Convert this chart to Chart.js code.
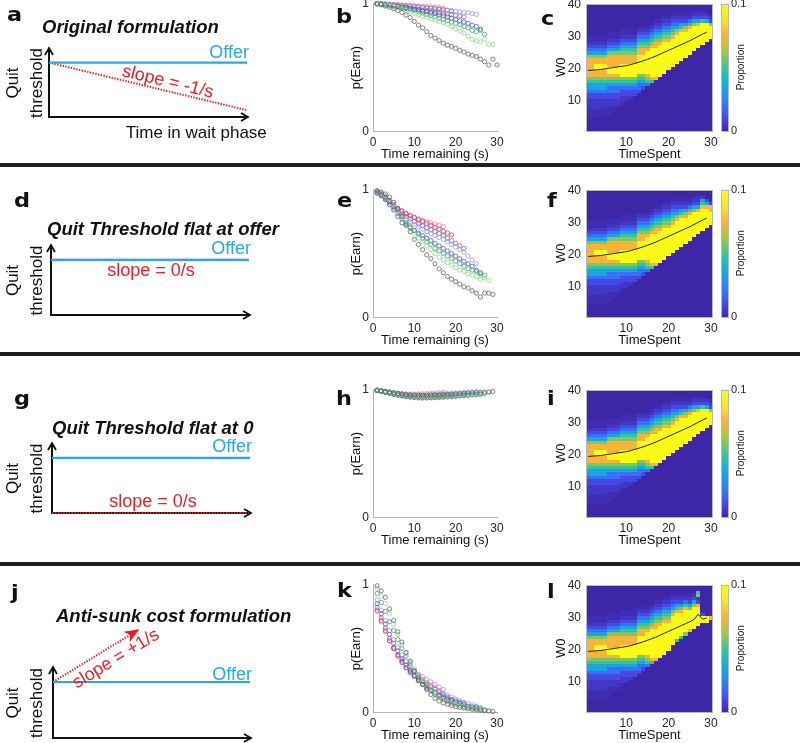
<!DOCTYPE html>
<html>
<head>
<meta charset="utf-8">
<title>Quit threshold formulations</title>
<script src="https://cdn.jsdelivr.net/npm/chart.js@4.4.1/dist/chart.umd.min.js"></script>
<style>
  html, body { margin: 0; padding: 0; background: #fff; }
  #fig { position: relative; width: 800px; height: 743px; overflow: hidden; background: #fff;
         font-family: "Liberation Sans", Arial, Helvetica, sans-serif; color: #111; }
  #fig canvas { position: absolute; }
  .letter { position: absolute; font-family: "DejaVu Sans", sans-serif; font-weight: bold; font-size: 20px; line-height: 1;
            transform: scaleX(1.12); transform-origin: left top; }
  .title { position: absolute; font-weight: bold; font-style: italic; font-size: 18.5px; line-height: 1; white-space: nowrap; }
  .rule { position: absolute; left: 0; width: 800px; height: 4px; background: #1e1e1e; z-index: 2; }
</style>
</head>
<body>
<div id="fig">
  <div class="letter" style="left:7px;top:4px">a</div>
  <div class="letter" style="left:336px;top:6px">b</div>
  <div class="letter" style="left:541px;top:8px">c</div>
  <div class="letter" style="left:14px;top:190px">d</div>
  <div class="letter" style="left:337px;top:190px">e</div>
  <div class="letter" style="left:547px;top:190px">f</div>
  <div class="letter" style="left:14px;top:388px">g</div>
  <div class="letter" style="left:336px;top:388px">h</div>
  <div class="letter" style="left:547px;top:388px">i</div>
  <div class="letter" style="left:11px;top:582px">j</div>
  <div class="letter" style="left:337px;top:580px">k</div>
  <div class="letter" style="left:547px;top:581px">l</div>
  <div class="title" style="left:42px;top:18px">Original formulation</div>
  <div class="title" style="left:47px;top:220px">Quit Threshold flat at offer</div>
  <div class="title" style="left:52px;top:419px">Quit Threshold flat at 0</div>
  <div class="title" style="left:56px;top:607px">Anti-sunk cost formulation</div>
  <div class="rule" style="top:163px"></div>
  <div class="rule" style="top:352px"></div>
  <div class="rule" style="top:562px"></div>
</div>
<script>
// ---- data ----
const seconds = [1,2,3,4,5,6,7,8,9,10,11,12,13,14,15,16,17,18,19,20,21,22,23,24,25,26,27,28,29,30];
const timeTicks = [0, 10, 20, 30];
const pTicks = [0, 1];
const spentTicks = [10, 20, 30];
const w0Ticks = [10, 20, 30, 40];
const propTicks = [0, 0.1];

// schematic lines (arbitrary units)
const schemTime = [0, 10];
const offerLine = [8, 8];
const quitOriginal = [8, 1];
const quitFlatOffer = [8, 8];
const quitFlatZero = [0, 0];
const antiTime = [0, 4.3];
const quitAntiSunk = [8, 15.4];

// p(Earn) by time remaining, one array per offer group
const bGray = [0.995,0.99,0.98,0.97,0.96,0.945,0.93,0.91,0.89,0.86,0.83,0.81,0.78,0.75,0.73,0.71,0.69,0.675,0.665,0.65,0.635,0.62,0.605,0.595,0.585,0.565,0.545,0.52,0.565,0.52];
const bLime = [1.0,0.995,0.99,0.985,0.98,0.97,0.96,0.95,0.935,0.925,0.91,0.90,0.89,0.88,0.87,0.86,0.85,0.84,0.82,0.80,0.785,0.77,0.745,0.72,0.71,0.70,0.72,0.68,0.68];
const bGreen = [1.0,0.995,0.99,0.985,0.98,0.975,0.97,0.96,0.955,0.945,0.935,0.925,0.915,0.905,0.895,0.885,0.875,0.865,0.855,0.845,0.835,0.82,0.81,0.79,0.78,0.79,0.76];
const bBlue = [1.0,0.995,0.99,0.985,0.98,0.975,0.97,0.965,0.96,0.955,0.95,0.94,0.935,0.925,0.92,0.91,0.905,0.895,0.885,0.875,0.865,0.855,0.845,0.83,0.82,0.80];
const bLilac = [1.0,0.998,0.996,0.993,0.99,0.987,0.984,0.981,0.978,0.975,0.972,0.969,0.966,0.963,0.96,0.956,0.952,0.948,0.944,0.94,0.936,0.932,0.928,0.922,0.915];
const bPurple = [1.0,0.997,0.993,0.988,0.983,0.978,0.973,0.968,0.963,0.958,0.953,0.948,0.943,0.938,0.933,0.928,0.923,0.918,0.913,0.908,0.903,0.895];
const bRed = [1.0,0.998,0.995,0.992,0.989,0.986,0.983,0.98,0.977,0.974,0.971,0.968,0.965,0.962,0.958,0.954,0.95,0.946,0.94];
const bPink = [1.0,0.999,0.997,0.995,0.993,0.991,0.989,0.987,0.985,0.983,0.981,0.979,0.977,0.975,0.972,0.969,0.965];

const eGray = [0.99,0.98,0.965,0.94,0.90,0.85,0.79,0.73,0.67,0.61,0.57,0.53,0.49,0.46,0.42,0.38,0.35,0.32,0.30,0.28,0.26,0.24,0.23,0.21,0.19,0.16,0.19,0.19,0.18];
const eLime = [0.985,0.97,0.95,0.92,0.88,0.83,0.78,0.74,0.70,0.66,0.62,0.59,0.56,0.53,0.50,0.47,0.45,0.43,0.41,0.39,0.37,0.36,0.34,0.33,0.32,0.30,0.31,0.29];
const eGreen = [0.98,0.955,0.93,0.895,0.855,0.81,0.77,0.74,0.71,0.68,0.65,0.62,0.59,0.57,0.54,0.52,0.50,0.48,0.46,0.44,0.42,0.40,0.38,0.37,0.36,0.34,0.33];
const eBlue = [0.97,0.95,0.92,0.88,0.84,0.79,0.74,0.72,0.70,0.68,0.66,0.64,0.62,0.60,0.58,0.56,0.54,0.52,0.50,0.48,0.46,0.44,0.42,0.40,0.37,0.35];
const eLilac = [0.975,0.955,0.93,0.90,0.865,0.83,0.79,0.77,0.75,0.73,0.71,0.69,0.67,0.655,0.64,0.625,0.61,0.59,0.57,0.55,0.53,0.51,0.48,0.45,0.42];
const ePurple = [0.98,0.96,0.935,0.905,0.87,0.84,0.81,0.79,0.77,0.75,0.73,0.715,0.70,0.685,0.67,0.655,0.64,0.62,0.60,0.58,0.56,0.54];
const eRed = [0.985,0.965,0.94,0.91,0.88,0.85,0.83,0.81,0.795,0.78,0.765,0.75,0.735,0.72,0.705,0.69,0.675,0.66,0.645];
const ePink = [0.99,0.97,0.945,0.915,0.885,0.855,0.835,0.815,0.80,0.785,0.77,0.76,0.75,0.74,0.73,0.72,0.71];

const hGray = [0.995,0.99,0.985,0.98,0.975,0.97,0.965,0.96,0.958,0.956,0.955,0.955,0.955,0.956,0.957,0.958,0.96,0.962,0.964,0.966,0.968,0.97,0.972,0.974,0.976,0.978,0.98,0.982,0.985];
const hLime = [0.995,0.99,0.983,0.976,0.97,0.963,0.957,0.952,0.948,0.945,0.943,0.942,0.942,0.943,0.944,0.946,0.948,0.95,0.952,0.955,0.957,0.96,0.962,0.965,0.968,0.97,0.973,0.975];
const hGreen = [0.993,0.987,0.98,0.972,0.965,0.958,0.952,0.947,0.943,0.94,0.938,0.937,0.937,0.938,0.939,0.941,0.943,0.945,0.947,0.95,0.952,0.955,0.957,0.96,0.962,0.965,0.967];
const hBlue = [0.99,0.985,0.977,0.97,0.962,0.955,0.949,0.944,0.94,0.937,0.935,0.934,0.934,0.935,0.936,0.938,0.94,0.942,0.945,0.947,0.95,0.952,0.955,0.958,0.96,0.963];
const hLilac = [0.995,0.99,0.985,0.98,0.975,0.97,0.966,0.962,0.96,0.958,0.957,0.957,0.958,0.96,0.962,0.964,0.966,0.968,0.97,0.972,0.974,0.976,0.978,0.98,0.982];
const hPurple = [0.993,0.988,0.982,0.976,0.97,0.964,0.959,0.955,0.952,0.95,0.949,0.948,0.948,0.949,0.95,0.952,0.954,0.956,0.958,0.96,0.962,0.964];
const hRed = [0.993,0.987,0.98,0.973,0.966,0.96,0.955,0.951,0.948,0.946,0.945,0.945,0.946,0.947,0.949,0.951,0.953,0.955,0.957];
const hPink = [0.996,0.99,0.985,0.98,0.975,0.971,0.968,0.966,0.965,0.965,0.966,0.967,0.969,0.971,0.973,0.975,0.977];

const kGray = [0.99,0.95,0.90,0.81,0.72,0.63,0.55,0.47,0.40,0.32,0.27,0.22,0.18,0.14,0.11,0.09,0.075,0.065,0.055,0.045,0.04,0.035,0.03,0.025,0.02,0.017,0.014,0.011,0.008];
const kLime = [0.97,0.91,0.85,0.77,0.69,0.61,0.53,0.46,0.40,0.34,0.29,0.25,0.21,0.18,0.15,0.12,0.10,0.085,0.07,0.06,0.05,0.045,0.04,0.035,0.03,0.025,0.02,0.015];
const kGreen = [0.93,0.86,0.79,0.71,0.64,0.57,0.50,0.44,0.38,0.33,0.28,0.24,0.21,0.18,0.15,0.13,0.11,0.09,0.075,0.065,0.055,0.045,0.04,0.035,0.03,0.025,0.02];
const kBlue = [0.85,0.77,0.69,0.61,0.54,0.48,0.42,0.37,0.33,0.29,0.25,0.22,0.19,0.17,0.15,0.13,0.115,0.10,0.09,0.08,0.07,0.06,0.05,0.045,0.04,0.035];
const kLilac = [0.88,0.80,0.72,0.64,0.57,0.51,0.45,0.40,0.36,0.32,0.29,0.26,0.23,0.21,0.19,0.17,0.15,0.135,0.12,0.105,0.09,0.08,0.07,0.06,0.05];
const kPurple = [0.82,0.74,0.66,0.58,0.51,0.45,0.40,0.35,0.31,0.28,0.25,0.22,0.20,0.18,0.16,0.14,0.125,0.11,0.10,0.09,0.08,0.07];
const kRed = [0.80,0.72,0.64,0.56,0.50,0.44,0.39,0.35,0.32,0.29,0.26,0.24,0.22,0.20,0.18,0.16,0.14,0.12,0.10];
const kPink = [0.79,0.71,0.63,0.56,0.50,0.45,0.41,0.37,0.34,0.32,0.30,0.28,0.26,0.24,0.22,0.20,0.18];

// heat maps: proportion level per cell (see levelValues), one string per TimeSpent column,
// first character is the cell at W0 = start, going up
const levelValues = [0, 0.002, 0.005, 0.01, 0.02, 0.034, 0.048, 0.058, 0.075, 0.1];

const cStart = [5,5,5,5,5,6,7,8,9,10,11,12,13,14,15,16,17,18,19,20,21,22,23,24,25,26,27,28,29,30];
const cCols = [
  "11122233455678888887543211", "11122233455678888887543211", "11122233455678899887543211",
  "11122233455678899887543211", "11122233455678899887543211", "11122334456789988887543211",
  "1122334456789988887543211", "122334456789988887543211", "122334567999988876543211",
  "22334567999988876543211", "2334567999988876543211", "334567999988876543211",
  "344567999999887654321", "34567999999887654321", "4678999999987654321",
  "6899999999987654321", "8999999999887654321", "999999999987654321",
  "999999999987654321", "99999999987654321", "99999999987654321",
  "9999999998754321", "999999999865321", "99999999875321",
  "9999999986421", "9999999975321", "999999985321",
  "99999996321", "999999532", "9999732"
];
const cLine = [19.5,19.6,19.7,19.8,20.0,20.2,20.4,20.6,20.8,21.0,21.3,21.7,22.1,22.5,23.0,23.5,24.0,24.6,25.2,25.8,26.4,27.0,27.6,28.2,28.8,29.5,30.2,30.9,31.5];

const fStart = [5,5,5,5,5,6,7,8,9,10,11,12,13,14,15,16,17,18,19,20,21,22,23,24,25,26,27,28,29,30];
const fCols = [
  "11122233455678888887543211", "11122233455678888887543211", "11122233455678899887543211",
  "11122233455678899887543211", "11122233455678899887543211", "11122334456789988887543211",
  "1122334456789988887543211", "122334456789988887543211", "122334567999988876543211",
  "22334567999988876543211", "2334567999988876543211", "334567999988876543211",
  "344567999999887654321", "34567999999887654321", "4678999999987654321",
  "6899999999987654321", "8999999999887654321", "999999999987654321",
  "999999999987654321", "99999999987654321", "99999999987654321",
  "9999999998754321", "999999999865321", "99999999875321",
  "9999999986421", "9999999975321", "999999985321",
  "99999998652", "999999853", "9999883"
];
const fLine = [19.5,19.6,19.7,19.8,20.0,20.2,20.4,20.6,20.8,21.0,21.3,21.7,22.1,22.5,23.0,23.5,24.0,24.6,25.2,25.8,26.4,27.0,27.6,28.2,28.8,29.5,30.2,30.9,31.5];

const iStart = [5,5,5,5,5,6,7,8,9,10,11,12,13,14,15,16,17,18,19,20,21,22,23,24,25,26,27,28,29,30];
const iCols = [
  "11122233455678888887543211", "11122233455678888887543211", "11122233455678899887543211",
  "11122233455678899887543211", "11122233455678899887543211", "11122334456789988887543211",
  "1122334456789988887543211", "122334456789988887543211", "122334567999988876543211",
  "22334567999988876543211", "2334567999988876543211", "334567999988876543211",
  "344567999999887654321", "34567999999887654321", "4678999999987654321",
  "6899999999987654321", "8999999999887654321", "999999999987654321",
  "999999999987654321", "99999999987654321", "99999999987654321",
  "9999999998754321", "999999999865321", "99999999875321",
  "9999999986421", "9999999975321", "999999985321",
  "99999996321", "999999532", "9999732"
];
const iLine = [19.5,19.6,19.7,19.8,20.0,20.2,20.4,20.6,20.8,21.0,21.3,21.7,22.1,22.5,23.0,23.5,24.0,24.6,25.2,25.8,26.4,27.0,27.6,28.2,28.8,29.5,30.2,30.9,31.5];

const lStart = [5,5,5,5,5,6,7,8,9,10,11,12,13,14,15,16,17,18,19,20,22,23,24,25,26,27,28,29,29,30];
const lCols = [
  "11122233455678888887543211", "11122233455678888887543211", "11122233455678899887543211",
  "11122233455678899887543211", "11122233455678899887543211", "11122334456789988887543211",
  "1122334456789988887543211", "122334456789988887543211", "122334567999988876543211",
  "22334567999988876543211", "2334567999988876543211", "334567999988876543211",
  "344567999999887654321", "34567999999887654321", "4678999999987654321",
  "6899999999987654321", "8999999999887654321", "999999999987654321",
  "999999999987654321", "99999999987654321", "9999999998754321",
  "699999999865321", "69999999875321", "7999999986421",
  "899999975321", "99999997532", "99999983276",
  "9931", "99", "8"
];
const lLine = [19.5,19.6,19.7,19.8,20.0,20.2,20.4,20.6,20.8,21.0,21.3,21.7,22.1,22.5,23.0,23.5,24.0,24.6,25.2,25.8,26.4,27.0,27.6,28.2,28.8,29.5,31.2,29.6,30.0];

// ---- styling ----
const seriesColors = ["#5c5c5c", "#86d486", "#3c9a6a", "#3d4fb5", "#8c93e0", "#8a55b0", "#c8305e", "#f07890"];
const CYAN = "#27aae1";
const RED = "#ed1c24";
const AXIS_GRAY = "#b4b4b4";
const parulaStops = ["#3e26a8", "#4752f4", "#2d87f7", "#11b1d6", "#37c897", "#abc739", "#f8b43a", "#f6e829", "#f9fb14"];
const colorMax = 0.1;

Chart.defaults.font.family = '"Liberation Sans", Arial, Helvetica, sans-serif';
Chart.defaults.color = "#262626";

const fig = document.getElementById("fig");

function hexRgb(h) {
  return [1, 3, 5].map(i => parseInt(h.slice(i, i + 2), 16));
}
function parula(f) {
  f = Math.min(1, Math.max(0, f));
  const pos = f * (parulaStops.length - 1);
  const i = Math.min(Math.floor(pos), parulaStops.length - 2);
  const u = pos - i;
  const a = hexRgb(parulaStops[i]), b = hexRgb(parulaStops[i + 1]);
  return "rgb(" + a.map((v, k) => Math.round(v + (b[k] - v) * u)).join(",") + ")";
}

function addCanvas(box) {
  const c = document.createElement("canvas");
  c.width = box.w; c.height = box.h;
  c.style.left = box.x + "px"; c.style.top = box.y + "px";
  c.style.width = box.w + "px"; c.style.height = box.h + "px";
  fig.insertBefore(c, fig.firstChild);
  return c;
}
// layout padding that puts the chart area where we want it, given fixed axis sizes
function padFor(box, area, yW, xH) {
  return { left: area.l - box.x - yW, top: area.t - box.y, right: box.x + box.w - area.r, bottom: box.y + box.h - area.b - xH };
}
const fixW = (w) => (s) => { s.width = w; s.paddingTop = 0; s.paddingBottom = 0; };
const fixH = (h) => (s) => { s.height = h; s.paddingLeft = 0; s.paddingRight = 0; };
const setTicks = (vals) => (s) => { s.ticks = vals.map(v => ({ value: v })); };
const points = (xs, ys) => ys.map((v, i) => ({ x: xs[i], y: v }));

// ---- scatter panels (b, e, h, k) ----
function scatterPanel(rowTop, series) {
  const box = { x: 325, y: rowTop - 6, w: 205, h: 169 };
  const area = { l: 373, r: 497, t: rowTop + 3.5, b: rowTop + 131.5 };
  const yW = 43, xH = 31;
  new Chart(addCanvas(box), {
    type: "scatter",
    data: {
      datasets: series.map((vals, k) => ({
        data: points(seconds, vals),
        borderColor: seriesColors[k],
        backgroundColor: "rgba(0,0,0,0)",
        pointRadius: 2.1,
        pointBorderWidth: 0.75,
        clip: false
      }))
    },
    options: {
      responsive: false,
      animation: false,
      events: [],
      layout: { padding: padFor(box, area, yW, xH) },
      plugins: { legend: { display: false }, tooltip: { enabled: false } },
      scales: {
        x: {
          type: "linear", min: 0, max: 30,
          afterBuildTicks: setTicks(timeTicks), afterFit: fixH(xH),
          grid: { display: false, drawTicks: false },
          border: { color: AXIS_GRAY },
          ticks: { padding: 4, font: { size: 12 }, maxRotation: 0, callback: v => String(v) },
          title: { display: true, text: "Time remaining (s)", color: "#111", font: { size: 13 }, padding: { top: 0, bottom: 0 } }
        },
        y: {
          min: 0, max: 1,
          afterBuildTicks: setTicks(pTicks), afterFit: fixW(yW),
          grid: { display: false, drawTicks: false },
          border: { color: AXIS_GRAY },
          ticks: { padding: 4, font: { size: 12 }, callback: v => String(v) },
          title: { display: true, text: "p(Earn)", color: "#111", font: { size: 13 }, padding: { top: 19, bottom: 0 } }
        }
      }
    }
  });
}

// ---- heat map panels (c, f, i, l) ----
const heatLayer = (starts, cols) => ({
  id: "heatLayer",
  beforeDatasetsDraw(chart) {
    const { ctx, chartArea: a, scales: { x, y } } = chart;
    ctx.save();
    ctx.beginPath(); ctx.rect(a.left, a.top, a.width, a.height); ctx.clip();
    seconds.forEach((t, i) => {
      const x0 = Math.round(x.getPixelForValue(t - 0.5));
      const x1 = Math.round(x.getPixelForValue(t + 0.5));
      for (let w = 1; w <= 40; w++) {
        const k = w - starts[i];
        const lvl = k >= 0 && k < cols[i].length ? +cols[i][k] : 0;
        const y0 = Math.round(y.getPixelForValue(w + 0.5));
        const y1 = Math.round(y.getPixelForValue(w - 0.5));
        ctx.fillStyle = parula(levelValues[lvl] / colorMax);
        ctx.fillRect(x0, y0, x1 - x0, y1 - y0);
      }
    });
    ctx.restore();
  },
  afterDatasetsDraw(chart) {
    const { ctx, chartArea: a } = chart;
    ctx.save();
    ctx.strokeStyle = "#b8b8c4"; ctx.lineWidth = 1;
    ctx.strokeRect(Math.round(a.left) + 0.5, Math.round(a.top) + 0.5, Math.round(a.width) - 1, Math.round(a.height) - 1);
    ctx.restore();
  }
});

function heatPanel(rowTop, starts, cols, line) {
  const box = { x: 530, y: rowTop - 6, w: 190, h: 169 };
  const area = { l: 586, r: 713, t: rowTop + 3.5, b: rowTop + 131 };
  const yW = 50, xH = 31;
  new Chart(addCanvas(box), {
    type: "scatter",
    data: {
      datasets: [{
        data: points(seconds, line),
        showLine: true, borderColor: "#222", borderWidth: 1, pointRadius: 0
      }]
    },
    options: {
      responsive: false,
      animation: false,
      events: [],
      layout: { padding: padFor(box, area, yW, xH) },
      plugins: { legend: { display: false }, tooltip: { enabled: false } },
      scales: {
        x: {
          type: "linear", min: 0.5, max: 30.5,
          afterBuildTicks: setTicks(spentTicks), afterFit: fixH(xH),
          grid: { display: false, drawTicks: false },
          border: { display: false },
          ticks: { padding: 4, font: { size: 12 }, maxRotation: 0, callback: v => String(v) },
          title: { display: true, text: "TimeSpent", color: "#111", font: { size: 13 }, padding: { top: 0, bottom: 0 } }
        },
        y: {
          min: 0.5, max: 40.5,
          afterBuildTicks: setTicks(w0Ticks), afterFit: fixW(yW),
          grid: { display: false, drawTicks: false },
          border: { display: false },
          ticks: { padding: 5, font: { size: 12 }, callback: v => String(v) },
          title: { display: true, text: "W0", color: "#111", font: { size: 13 }, padding: { top: 18, bottom: 0 } }
        }
      }
    },
    plugins: [heatLayer(starts, cols)]
  });
  colorbarPanel(rowTop);
}

const barLabel = {
  id: "barLabel",
  afterDraw(chart) {
    const { ctx, chartArea: a } = chart;
    ctx.save();
    ctx.strokeStyle = "#b8b8c4"; ctx.lineWidth = 1;
    ctx.strokeRect(Math.round(a.left) + 0.5, Math.round(a.top) + 0.5, Math.round(a.width) - 1, Math.round(a.height) - 1);
    ctx.translate(a.right + 12, (a.top + a.bottom) / 2);
    ctx.rotate(-Math.PI / 2);
    ctx.font = '10px "Liberation Sans", Arial, sans-serif';
    ctx.fillStyle = "#262626";
    ctx.textAlign = "center"; ctx.textBaseline = "middle";
    ctx.fillText("Proportion", 0, 0);
    ctx.restore();
  }
};

function colorbarPanel(rowTop) {
  const box = { x: 715, y: rowTop - 6, w: 85, h: 169 };
  const area = { l: 721, r: 729, t: rowTop + 3.5, b: rowTop + 131 };
  const yW = 40;
  new Chart(addCanvas(box), {
    type: "bar",
    data: {
      labels: ["Proportion"],
      datasets: [{
        data: [[propTicks[0], propTicks[1]]],
        categoryPercentage: 1, barPercentage: 1, borderWidth: 0,
        backgroundColor: (c) => {
          const a = c.chart.chartArea;
          if (!a) return parulaStops[0];
          const g = c.chart.ctx.createLinearGradient(0, a.bottom, 0, a.top);
          parulaStops.forEach((s, i) => g.addColorStop(i / (parulaStops.length - 1), s));
          return g;
        }
      }]
    },
    options: {
      responsive: false,
      animation: false,
      events: [],
      layout: { padding: { left: area.l - box.x, right: box.x + box.w - area.r - yW, top: area.t - box.y, bottom: box.y + box.h - area.b } },
      plugins: { legend: { display: false }, tooltip: { enabled: false } },
      scales: {
        x: { display: false },
        y: {
          position: "right", min: 0, max: colorMax,
          afterBuildTicks: setTicks(propTicks), afterFit: fixW(yW),
          grid: { display: false, drawTicks: false },
          border: { display: false },
          ticks: { padding: 2, font: { size: 11 }, callback: v => String(v) }
        }
      }
    },
    plugins: [barLabel]
  });
}

// ---- schematic panels (a, d, g, j) ----
const schemDecor = (notes, arrowSet) => ({
  id: "schemDecor",
  afterDatasetsDraw(chart) {
    const { ctx, chartArea: a, scales: { x, y } } = chart;
    ctx.save();
    ctx.strokeStyle = "#111"; ctx.lineWidth = 1.8;
    ctx.beginPath();
    ctx.moveTo(a.left - 4, a.top + 6); ctx.lineTo(a.left, a.top - 1); ctx.lineTo(a.left + 4, a.top + 6);
    ctx.moveTo(a.right - 6, a.bottom - 4); ctx.lineTo(a.right + 1, a.bottom); ctx.lineTo(a.right - 6, a.bottom + 4);
    ctx.stroke();
    const slopeOf = (idx) => {
      const pts = chart.getDatasetMeta(idx).data;
      const p0 = pts[0], p1 = pts[pts.length - 1];
      return { ang: Math.atan2(p1.y - p0.y, p1.x - p0.x), tip: p1 };
    };
    if (arrowSet != null) {
      const { ang, tip } = slopeOf(arrowSet);
      ctx.save();
      ctx.translate(tip.x, tip.y); ctx.rotate(ang);
      ctx.fillStyle = RED;
      ctx.beginPath(); ctx.moveTo(2, 0); ctx.lineTo(-13, -6); ctx.lineTo(-9, 0); ctx.lineTo(-13, 6); ctx.closePath(); ctx.fill();
      ctx.restore();
    }
    notes.forEach(n => {
      ctx.save();
      ctx.translate(x.getPixelForValue(n.x), y.getPixelForValue(n.y));
      if (n.along != null) ctx.rotate(slopeOf(n.along).ang);
      ctx.font = (n.size || 18) + 'px "Liberation Sans", Arial, sans-serif';
      ctx.fillStyle = n.color;
      ctx.textAlign = n.align || "center";
      ctx.textBaseline = n.baseline || "alphabetic";
      ctx.fillText(n.text, 0, 0);
      ctx.restore();
    });
    ctx.restore();
  }
});

function schemPanel(rowTop, area, quitX, quitY, notes, arrowSet) {
  const box = { x: 0, y: rowTop, w: 325, h: 163 };
  const yW = area.l, xH = 4;
  new Chart(addCanvas(box), {
    type: "scatter",
    data: {
      datasets: [
        { data: points(schemTime, offerLine), showLine: true, borderColor: CYAN, borderWidth: 2.2, pointRadius: 0 },
        { data: points(quitX, quitY), showLine: true, borderColor: RED, borderWidth: 2, borderDash: [1.4, 1.4], pointRadius: 0, clip: false }
      ]
    },
    options: {
      responsive: false,
      animation: false,
      events: [],
      layout: { padding: padFor(box, { l: area.l, r: area.r, t: area.t + rowTop, b: area.b + rowTop }, yW, xH) },
      plugins: { legend: { display: false }, tooltip: { enabled: false } },
      scales: {
        x: {
          type: "linear", min: 0, max: 10, afterFit: fixH(xH),
          grid: { display: false, drawTicks: false },
          border: { color: "#111", width: 2 },
          ticks: { display: false }
        },
        y: {
          min: 0, max: 10, afterFit: fixW(yW),
          grid: { display: false, drawTicks: false },
          border: { color: "#111", width: 2 },
          ticks: { display: false },
          title: { display: true, text: ["Quit", "threshold"], color: "#111", font: { size: 17, lineHeight: 1.4 }, padding: { top: 1.6, bottom: 0 } }
        }
      }
    },
    plugins: [schemDecor(notes, arrowSet)]
  });
}

const ROWS = [0, 186, 386, 581];

schemPanel(ROWS[0], { l: 49, r: 247, t: 49, b: 117 }, schemTime, quitOriginal, [
  { text: "Offer", x: 10.1, y: 8.7, color: CYAN, align: "right" },
  { text: "slope = -1/s", x: 6.0, y: 5.15, color: RED, baseline: "middle", along: 1 },
  { text: "Time in wait phase", x: 11.0, y: -3.1, color: "#111", align: "right", size: 17 }
]);
schemPanel(ROWS[1], { l: 51, r: 249, t: 60, b: 129 }, schemTime, quitFlatOffer, [
  { text: "Offer", x: 10.1, y: 8.84, color: CYAN, align: "right" },
  { text: "slope = 0/s", x: 5.05, y: 5.6, color: RED }
]);
schemPanel(ROWS[2], { l: 52, r: 250, t: 58, b: 127 }, schemTime, quitFlatZero, [
  { text: "Offer", x: 10.1, y: 8.84, color: CYAN, align: "right" },
  { text: "slope = 0/s", x: 5.1, y: 0.87, color: RED }
]);
schemPanel(ROWS[3], { l: 53, r: 250, t: 87, b: 157 }, antiTime, quitAntiSunk, [
  { text: "Offer", x: 10.1, y: 8.3, color: CYAN, align: "right" },
  { text: "slope = +1/s", x: 3.2, y: 11.3, color: RED, baseline: "middle", along: 1 }
], 1);

scatterPanel(ROWS[0], [bGray, bLime, bGreen, bBlue, bLilac, bPurple, bRed, bPink]);
scatterPanel(ROWS[1], [eGray, eLime, eGreen, eBlue, eLilac, ePurple, eRed, ePink]);
scatterPanel(ROWS[2], [hGray, hLime, hGreen, hBlue, hLilac, hPurple, hRed, hPink]);
scatterPanel(ROWS[3], [kGray, kLime, kGreen, kBlue, kLilac, kPurple, kRed, kPink]);

heatPanel(ROWS[0], cStart, cCols, cLine);
heatPanel(ROWS[1], fStart, fCols, fLine);
heatPanel(ROWS[2], iStart, iCols, iLine);
heatPanel(ROWS[3], lStart, lCols, lLine);
</script>
</body>
</html>
